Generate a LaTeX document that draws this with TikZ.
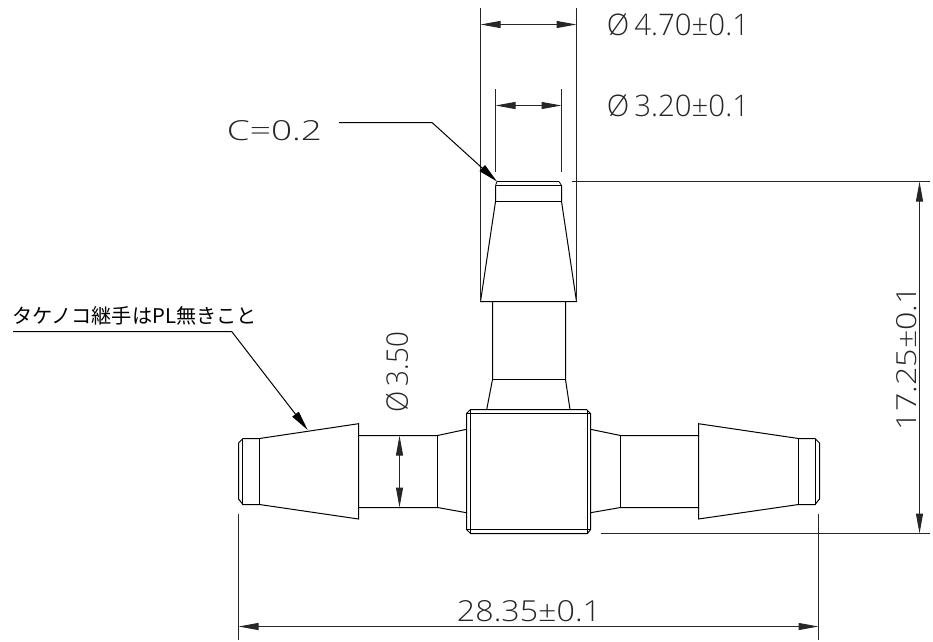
\documentclass[tikz,border=0pt]{standalone}
\usepackage{fontspec}
\usepackage{graphicx}
\usetikzlibrary{arrows.meta}
\setmainfont{Open Sans Light}
\newfontfamily\cjk{Noto Sans CJK JP}
\newcommand{\dimtxt}[3]{\resizebox{#1pt}{#2pt}{#3}}
\newcommand{\phisym}{Ø}
\tikzset{
  x=1pt,y=-1pt,
  part/.style={draw=black,line width=1pt,line join=miter},
  thin part/.style={draw=black,line width=0.8pt},
  extline/.style={draw=black!85,line width=1pt},
  dimline/.style={draw=black!85,line width=1pt,{Triangle[length=20pt,width=7pt]}-{Triangle[length=20pt,width=7pt]}},
  leader/.style={draw=black,line width=1pt,-{Triangle[length=20pt,width=8pt]}},
  lbl/.style={inner sep=0pt,outer sep=0pt,text=black!85}
}
\begin{document}
\begin{tikzpicture}
\useasboundingbox (0,0) rectangle (933,641);
% vertical barb
\draw[part] (497,181.5) -- (559,181.5);
\draw[part] (495.5,185.5) -- (561.5,185.5);
\draw[part] (495.5,185.5) -- (495.5,201.5) -- (480.5,301.5) -- (576.5,301.5) -- (561.5,201.5) -- (561.5,185.5);
\draw[part] (495.5,201.5) -- (561.5,201.5);
\draw[thin part] (495.5,185.5) -- (497,181.5) (561.5,185.5) -- (559,181.5);
\draw[part] (492.5,301.5) -- (492.5,379.5) -- (486.7,409.5);
\draw[part] (565.5,301.5) -- (565.5,379.5) -- (570,409.5);
\draw[part] (492.5,379.5) -- (565.5,379.5);
% body
\draw[part] (470.5,409.5) -- (586.5,409.5) -- (590.5,413.5) -- (590.5,529.5) -- (587.5,533.5) -- (470.5,533.5) -- (466.5,529.5) -- (466.5,413.5) -- cycle;
\draw[part] (466.5,413.5) -- (590.5,413.5);
\draw[part] (466.5,529.5) -- (590.5,529.5);
\draw[part] (470.5,409.5) -- (470.5,533.5);
\draw[part] (587.5,409.5) -- (587.5,533.5);
% left barb
\draw[part] (466.5,429.3) -- (437.5,435.5) -- (358.5,435.5);
\draw[part] (466.5,512.7) -- (437.5,507.5) -- (358.5,507.5);
\draw[part] (437.5,435.5) -- (437.5,507.5);
\draw[part] (358.5,423.7) -- (358.5,519) -- (259.5,504.5) -- (243,504.5) -- (238.5,499) -- (238.5,443) -- (243,438.5) -- (259.5,438.5) -- cycle;
\draw[part] (259.5,438.5) -- (259.5,504.5);
\draw[thin part] (242.5,438.5) -- (242.5,504.5);
% right barb
\draw[part] (590.5,429.3) -- (620.5,435.5) -- (699,435.5);
\draw[part] (590.5,512.7) -- (620.5,507.5) -- (699,507.5);
\draw[part] (620.5,435.5) -- (620.5,507.5);
\draw[part] (698.5,423.7) -- (698.5,519) -- (798.5,504.5) -- (815,504.5) -- (819.5,499) -- (819.5,443) -- (815,438.5) -- (798.5,438.5) -- cycle;
\draw[part] (798.5,438.5) -- (798.5,504.5);
\draw[thin part] (815.5,438.5) -- (815.5,504.5);
% extension lines
\draw[extline] (480.5,8) -- (480.5,301);
\draw[extline] (576.5,8) -- (576.5,301);
\draw[extline] (495.5,89) -- (495.5,172);
\draw[extline] (561.5,89) -- (561.5,172);
\draw[extline] (572,181.5) -- (930,181.5);
\draw[extline] (600.7,533.5) -- (930,533.5);
\draw[extline] (238.5,514) -- (238.5,640);
\draw[extline] (818.5,514) -- (818.5,640);
% dimension lines
\coordinate (d1a) at (480.5,24.5); \coordinate (d1b) at (576.5,24.5);
\coordinate (d2a) at (495.5,105.5); \coordinate (d2b) at (561.5,105.5);
\coordinate (d3a) at (399.5,435.5); \coordinate (d3b) at (399.5,507.5);
\coordinate (d4a) at (238.5,626.5); \coordinate (d4b) at (818.5,626.5);
\coordinate (d5a) at (919.5,181.5); \coordinate (d5b) at (919.5,533.5);
\draw[dimline] (d1a) -- (d1b);
\draw[dimline] (d2a) -- (d2b);
\draw[dimline] (d3a) -- (d3b);
\draw[dimline] (d4a) -- (d4b);
\draw[dimline] (d5a) -- (d5b);
% leaders
\coordinate (l1s) at (339,122.5); \coordinate (l1k) at (432,122.5); \coordinate (l1e) at (497,181.5);
\coordinate (l2s) at (13,331.5); \coordinate (l2k) at (231.7,331.5); \coordinate (l2e) at (307.7,430);
\draw[leader] (l1s) -- (l1k) -- (l1e);
\draw[leader] (l2s) -- (l2k) -- (l2e);
% labels
\node[lbl,anchor=center] (t1) at (678,25) {\dimtxt{142}{22}{\phisym\,4.70±0.1}};
\node[lbl,anchor=center] (t2) at (678,105.5) {\dimtxt{142}{22}{\phisym\,3.20±0.1}};
\node[lbl,anchor=center] (t3) at (274.5,131) {\dimtxt{95}{20}{C=0.2}};
\node[lbl,anchor=center,rotate=90] (t4) at (397,372) {\dimtxt{80}{22}{\phisym\,3.50}};
\node[lbl,anchor=center] (t5) at (529,611) {\dimtxt{144}{21}{28.35±0.1}};
\node[lbl,anchor=center,rotate=90] (t6) at (907,358) {\dimtxt{144}{20}{17.25±0.1}};
\node[lbl,anchor=center,text=black] (t7) at (134.5,316) {\cjk\fontsize{20.2}{22}\selectfont タケノコ継手はPL無きこと};
\end{tikzpicture}
\end{document}
